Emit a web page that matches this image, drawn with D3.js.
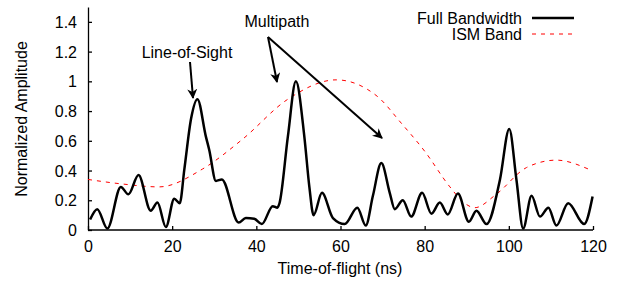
<!DOCTYPE html>
<html>
  <head>
    <meta charset="utf-8" />
    <style>
      body { margin: 0; background: #fff; }
      text { font-family: "Liberation Sans", Arial, sans-serif; font-size: 16px; fill: #000; }
      .axis path, .axis line { stroke: #000; stroke-width: 1.3px; }
      .axis text { font-size: 16px; }
    </style>
  </head>
  <body>
    <svg width="619" height="282"></svg>

    <script src="https://d3js.org/d3.v7.min.js"></script>
    <script>
      // Full bandwidth profile (time in ns, normalized amplitude)
      const fullTime = [0.5, 2.2, 4.6, 7.8, 9.6, 12, 14.9, 16.5, 18.5, 20.5, 21.8, 22.9, 24.5, 26, 28, 28.8, 30.4, 31.8,
        35.8, 37.5, 39.5, 41.3, 43.9, 45, 45.5, 47.5, 49.4, 51.4, 52.6, 53.6, 55.6, 58.2, 61, 64, 66, 67.7, 69.7, 71.7,
        72.9, 74.8, 76.8, 79.4, 81.6, 83.6, 85.5, 87.9, 90.5, 92.3, 94.7, 97.9, 100.1, 101.8, 103.4, 105.4, 107.4,
        109.4, 111.3, 114.1, 117.9, 119.9];
      const fullAmp = [0.07, 0.14, 0.01, 0.29, 0.24, 0.37, 0.13, 0.185, 0.02, 0.21, 0.18, 0.41, 0.75, 0.88, 0.63, 0.54, 0.33, 0.34,
        0.05, 0.08, 0.075, 0.04, 0.16, 0.15, 0.18, 0.63, 1.0, 0.63, 0.29, 0.10, 0.25, 0.08, 0.04, 0.15, 0.03, 0.23, 0.45, 0.25,
        0.14, 0.20, 0.09, 0.25, 0.11, 0.185, 0.105, 0.245, 0.056, 0.13, 0.04, 0.34, 0.68, 0.34, 0.01, 0.23, 0.09,
        0.15, 0.03, 0.18, 0.04, 0.225];

      // ISM band profile
      const ismTime = [0, 8, 16.9, 27.2, 36.7, 47.5, 59, 68.7, 74.4, 80, 86, 89.5, 91.9, 97, 104.2, 111.3, 118.9];
      const ismAmp = [0.34, 0.31, 0.29, 0.41, 0.61, 0.88, 1.01, 0.9, 0.72, 0.53, 0.29, 0.18, 0.15, 0.24, 0.42, 0.47, 0.41];

      const xTicks = [0, 20, 40, 60, 80, 100, 120];
      const yTicks = [0, 0.2, 0.4, 0.6, 0.8, 1, 1.2, 1.4];
      const seriesNames = ["Full Bandwidth", "ISM Band"];

      const svg = d3.select("svg");

      const x = d3.scaleLinear().domain([0, 120]).range([88, 593]);
      const y = d3.scaleLinear().domain([0, 1.5]).range([230, 7]);

      // arrow head marker
      svg.append("defs").append("marker")
        .attr("id", "arrow")
        .attr("viewBox", "0 0 10 10")
        .attr("refX", 9).attr("refY", 5)
        .attr("markerWidth", 5).attr("markerHeight", 5)
        .attr("markerUnits", "strokeWidth")
        .attr("orient", "auto")
        .append("path")
        .attr("d", "M0,0L10,5L0,10L3,5Z")
        .attr("fill", "#000");

      // axes
      svg.append("g")
        .attr("class", "axis")
        .attr("transform", "translate(0,230)")
        .call(d3.axisBottom(x).tickValues(xTicks).tickSizeInner(-4).tickSizeOuter(0).tickPadding(11))
        .call((g) => g.select(".domain").attr("d", `M${x(0)},0H${x(120)}`));

      svg.append("g")
        .attr("class", "axis")
        .attr("transform", "translate(88,0)")
        .call(d3.axisLeft(y).tickValues(yTicks).tickFormat((d) => d).tickSizeInner(-4).tickSizeOuter(0).tickPadding(11))
        .call((g) => g.selectAll(".tick text").attr("dy", "0.35em"));

      // axis titles
      svg.append("text")
        .attr("x", 340).attr("y", 274)
        .attr("text-anchor", "middle")
        .text("Time-of-flight (ns)");

      svg.append("text")
        .attr("transform", "translate(27,119) rotate(-90)")
        .attr("text-anchor", "middle")
        .text("Normalized Amplitude");

      // lines
      const line = d3.line()
        .x((d) => x(d[0]))
        .y((d) => y(d[1]))
        .curve(d3.curveMonotoneX);

      svg.append("path")
        .datum(d3.zip(ismTime, ismAmp))
        .attr("fill", "none")
        .attr("stroke", "#ff0000")
        .attr("stroke-width", 1)
        .attr("stroke-dasharray", "4,5")
        .attr("d", line);

      svg.append("path")
        .datum(d3.zip(fullTime, fullAmp))
        .attr("fill", "none")
        .attr("stroke", "#000")
        .attr("stroke-width", 2.5)
        .attr("stroke-linejoin", "round")
        .attr("d", line);

      // legend
      const legend = svg.append("g");
      seriesNames.forEach((name, i) => {
        const yy = 18 + i * 16;
        legend.append("text")
          .attr("x", 522).attr("y", yy + 6)
          .attr("text-anchor", "end")
          .text(name);
        legend.append("line")
          .attr("x1", 532).attr("x2", 574)
          .attr("y1", yy).attr("y2", yy)
          .attr("stroke", i === 0 ? "#000" : "#ff0000")
          .attr("stroke-width", i === 0 ? 2.5 : 1)
          .attr("stroke-dasharray", i === 0 ? null : "4,5");
      });

      // annotations
      svg.append("text")
        .attr("x", 187).attr("y", 57.5)
        .attr("text-anchor", "middle")
        .text("Line-of-Sight");

      svg.append("text")
        .attr("x", 277).attr("y", 27)
        .attr("text-anchor", "middle")
        .text("Multipath");

      const arrows = [
        [190, 62, 193, 98],
        [268, 37, 277, 82],
        [268, 37, 382, 138]
      ];
      svg.selectAll(".arrow")
        .data(arrows)
        .join("line")
        .attr("class", "arrow")
        .attr("x1", (d) => d[0]).attr("y1", (d) => d[1])
        .attr("x2", (d) => d[2]).attr("y2", (d) => d[3])
        .attr("stroke", "#000")
        .attr("stroke-width", 2)
        .attr("marker-end", "url(#arrow)");
    </script>
  </body>
</html>
